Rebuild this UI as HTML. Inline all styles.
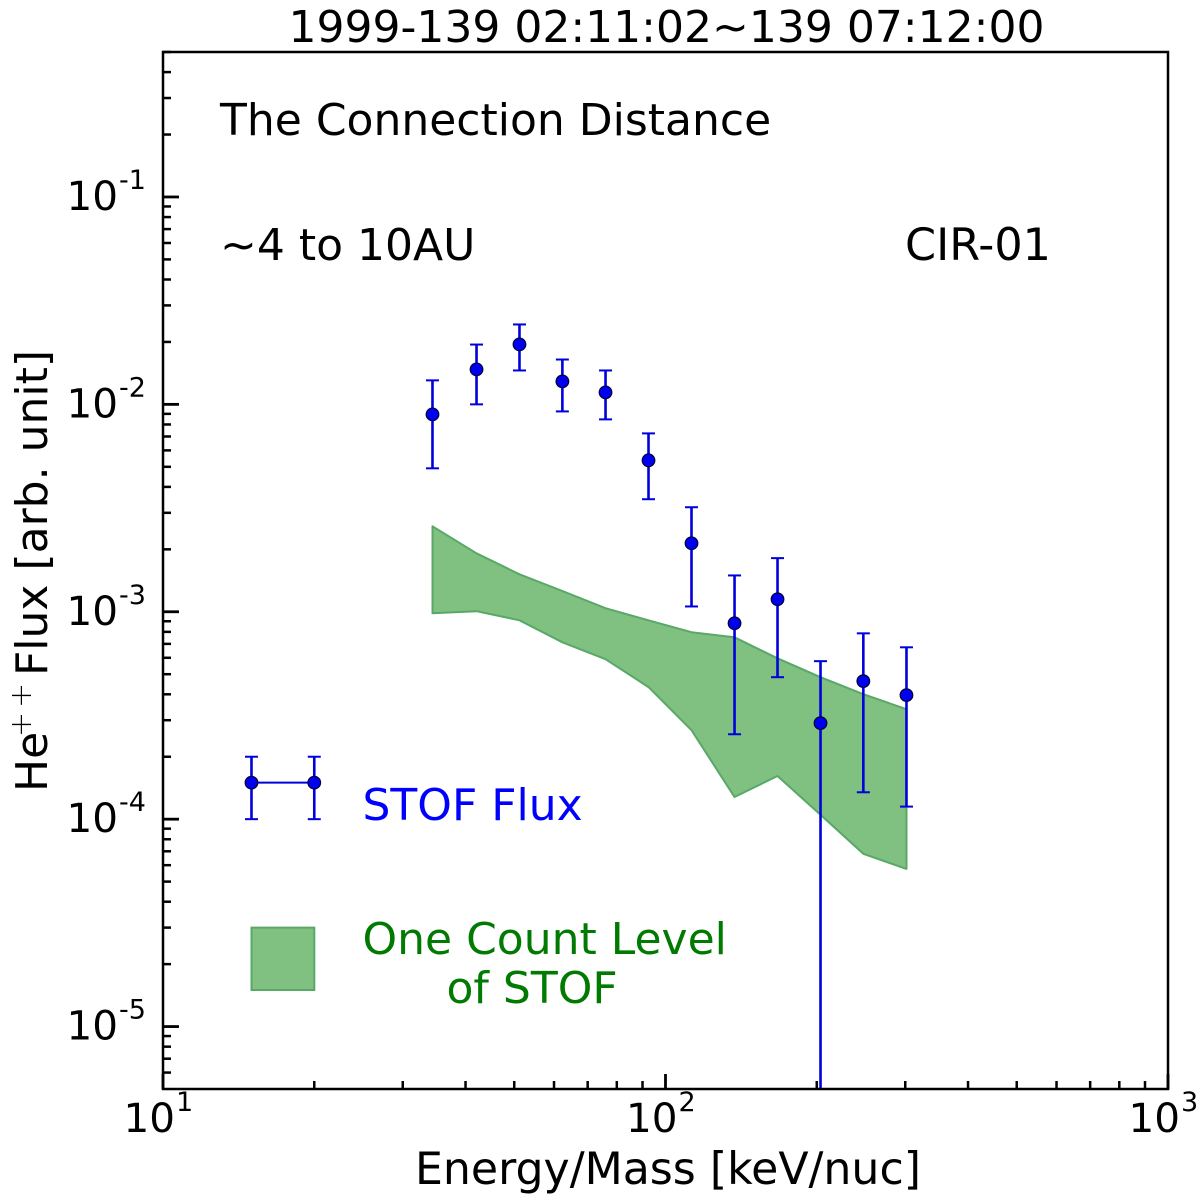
<!DOCTYPE html>
<html>
<head>
<meta charset="utf-8">
<title>STOF Flux</title>
<style>
html,body{margin:0;padding:0;background:#fff;width:1200px;height:1200px;overflow:hidden}
svg{display:block}
text{font-family:"DejaVu Sans","Liberation Sans",sans-serif;fill:#000}
</style>
</head>
<body>
<svg id="chart" xmlns="http://www.w3.org/2000/svg" width="1200" height="1200" viewBox="0 0 1200 1200">
  <rect x="0" y="0" width="1200" height="1200" fill="#fff"/>
  <defs><clipPath id="plot-clip"><rect x="163" y="52" width="1005" height="1037"/></clipPath></defs>
  <g clip-path="url(#plot-clip)">
    <g id="band-layer" transform="translate(0.5 0.8)"></g>
    <g id="err-layer" transform="translate(0.5 0.8)"></g>
  </g>
  <g id="legend-layer"></g>
  <g id="axis-layer"></g>
  <text x="666.5" y="42" font-size="44" text-anchor="middle">1999-139 02:11:02~139 07:12:00</text>
  <text x="220" y="135" font-size="44">The Connection Distance</text>
  <text x="220" y="260" font-size="44">~4 to 10AU</text>
  <text x="905" y="260" font-size="44.5">CIR-01</text>
  <text x="362.5" y="820" font-size="44" style="fill:#0000ff">STOF Flux</text>
  <text x="362.5" y="954" font-size="44" style="fill:#007a00">One Count Level</text>
  <text x="446.5" y="1003" font-size="44" style="fill:#007a00">of STOF</text>
  <text x="668" y="1184" font-size="44.2" text-anchor="middle">Energy/Mass [keV/nuc]</text>
  <text transform="translate(47 792) rotate(-90)" font-size="44">He</text>
  <text transform="translate(31 737) rotate(-90)" font-size="30" style="font-weight:200">+</text>
  <text transform="translate(31 708) rotate(-90)" font-size="30" style="font-weight:200">+</text>
  <text transform="translate(47 676) rotate(-90)" font-size="44">Flux [arb. unit]</text>
</svg>
<script>
var energy = [34.3, 41.97, 51.1, 62.2, 75.8, 92.3, 112.4, 136.9, 166.7, 203, 247, 301];
var flux = [9.03e-3, 1.488e-2, 1.963e-2, 1.302e-2, 1.153e-2, 5.42e-3, 2.158e-3, 8.88e-4, 1.159e-3, 2.93e-4, 4.67e-4, 4.0e-4];
var fluxHigh = [1.317e-2, 1.96e-2, 2.45e-2, 1.66e-2, 1.47e-2, 7.31e-3, 3.22e-3, 1.51e-3, 1.83e-3, 5.83e-4, 7.94e-4, 6.8e-4];
var fluxLow = [4.96e-3, 1.009e-2, 1.47e-2, 9.33e-3, 8.54e-3, 3.52e-3, 1.07e-3, 2.59e-4, 4.88e-4, 1e-6, 1.36e-4, 1.16e-4];
var bandUpper = [2.606e-3, 1.93e-3, 1.53e-3, 1.27e-3, 1.05e-3, 9.18e-4, 8.04e-4, 7.6e-4, 6.02e-4, 4.88e-4, 4.04e-4, 3.42e-4];
var bandLower = [9.92e-4, 1.015e-3, 9.18e-4, 7.19e-4, 5.96e-4, 4.37e-4, 2.71e-4, 1.29e-4, 1.63e-4, 1.06e-4, 6.87e-5, 5.81e-5];
var legendEnergy = [15, 20];
var legendFlux = [1.5e-4, 1.5e-4];
var legendHigh = [2e-4, 2e-4];
var legendLow = [1e-4, 1e-4];
var legendBandEnergy = [15, 20];
var legendBandFlux = [1.5e-5, 3e-5];
var xTickExponents = [1, 2, 3];
var yTickExponents = [-5, -4, -3, -2, -1];
var minorMultipliers = [2, 3, 4, 5, 6, 7, 8, 9];

var X_MIN = 10, X_MAX = 1000, Y_MIN = 5e-6, Y_MAX = 0.5;
var LEFT = 163, RIGHT = 1168, TOP = 52, BOTTOM = 1089;
var NS = 'http://www.w3.org/2000/svg';
var BLUE = '#0000dc';

function xScale(v) {
  return LEFT + (RIGHT - LEFT) * (Math.log10(v) - Math.log10(X_MIN)) / (Math.log10(X_MAX) - Math.log10(X_MIN));
}
function yScale(v) {
  return BOTTOM - (BOTTOM - TOP) * (Math.log10(v) - Math.log10(Y_MIN)) / (Math.log10(Y_MAX) - Math.log10(Y_MIN));
}
function make(parent, tag, attrs, txt) {
  var el = document.createElementNS(NS, tag);
  for (var k in attrs) { el.setAttribute(k, attrs[k]); }
  if (txt !== undefined) { el.textContent = txt; }
  parent.appendChild(el);
  return el;
}
function bandPath(xs, up, lo) {
  var pts = [];
  for (var i = 0; i < xs.length; i++) { pts.push(xScale(xs[i]).toFixed(1) + ',' + yScale(up[i]).toFixed(1)); }
  for (var j = xs.length - 1; j >= 0; j--) { pts.push(xScale(xs[j]).toFixed(1) + ',' + yScale(lo[j]).toFixed(1)); }
  return pts.join(' ');
}
function drawErrors(layer, xs, ys, hi, lo, prefix) {
  for (var i = 0; i < xs.length; i++) {
    var px = xScale(xs[i]);
    var stem = make(layer, 'line', {x1: px, x2: px, y1: yScale(hi[i]), y2: yScale(lo[i]), stroke: BLUE, 'stroke-width': 2.6});
    
    
    var capTop = make(layer, 'line', {x1: px - 6.5, x2: px + 6.5, y1: yScale(hi[i]), y2: yScale(hi[i]), stroke: BLUE, 'stroke-width': 2});
    
    
    var capLow = make(layer, 'line', {x1: px - 6.5, x2: px + 6.5, y1: yScale(lo[i]), y2: yScale(lo[i]), stroke: BLUE, 'stroke-width': 2});
    
    
  }
}
function drawPoints(layer, xs, ys, prefix) {
  for (var i = 0; i < xs.length; i++) {
    var dot = make(layer, 'circle', {cx: xScale(xs[i]), cy: yScale(ys[i]), r: 6.3, fill: '#0000f0', stroke: '#000033', 'stroke-width': 1.2});
    
    
  }
}

var bandLayer = document.getElementById('band-layer');
var errLayer = document.getElementById('err-layer');
var legendLayer = document.getElementById('legend-layer');
var axisLayer = document.getElementById('axis-layer');

var band = make(bandLayer, 'polygon', {points: bandPath(energy, bandUpper, bandLower), fill: '#80c080', stroke: '#58a868', 'stroke-width': 2, 'stroke-linejoin': 'round'});



drawErrors(errLayer, energy, flux, fluxHigh, fluxLow, 'stof-flux');
drawPoints(errLayer, energy, flux, 'stof-flux');

var legendLine = make(legendLayer, 'line', {x1: xScale(legendEnergy[0]), x2: xScale(legendEnergy[1]), y1: yScale(legendFlux[0]), y2: yScale(legendFlux[1]), stroke: BLUE, 'stroke-width': 2});


drawErrors(legendLayer, legendEnergy, legendFlux, legendHigh, legendLow, 'legend-stof');
drawPoints(legendLayer, legendEnergy, legendFlux, 'legend-stof');
var legendBand = make(legendLayer, 'polygon', {points: bandPath(legendBandEnergy, [legendBandFlux[1], legendBandFlux[1]], [legendBandFlux[0], legendBandFlux[0]]), fill: '#80c080', stroke: '#58a868', 'stroke-width': 2});



var frame = make(axisLayer, 'rect', {x: LEFT, y: TOP, width: RIGHT - LEFT, height: BOTTOM - TOP, fill: 'none', stroke: '#000', 'stroke-width': 2.5});



function tick(x1, y1, x2, y2, w, name) {
  var t = make(axisLayer, 'line', {x1: x1, y1: y1, x2: x2, y2: y2, stroke: '#000', 'stroke-width': w});
  
  
}
function tickLabel(xRight, baseline, exp, name) {
  var base = make(axisLayer, 'text', {x: xRight, y: baseline, 'font-size': 40.5, 'text-anchor': 'end'}, '10');
  
  
  var sup = make(axisLayer, 'text', {x: xRight + 1, y: baseline - 21, 'font-size': 27}, String(exp));
  
  
}

for (var xe = 1; xe <= 3; xe++) {
  for (var m = 0; xe < 3 && m < minorMultipliers.length; m++) {
    var mx = xScale(minorMultipliers[m] * Math.pow(10, xe));
    tick(mx, BOTTOM, mx, BOTTOM - 8, 2.5, 'x-minor-tick');
  }
}
xTickExponents.forEach(function (e) {
  var px = xScale(Math.pow(10, e));
  tick(px, BOTTOM, px, BOTTOM - 15, 2.8, 'x-major-tick');
  tickLabel(px + 12, 1132, e, 'x-tick-label');
});
for (var ye = -6; ye <= -1; ye++) {
  for (var n = 0; n < minorMultipliers.length; n++) {
    var val = minorMultipliers[n] * Math.pow(10, ye);
    if (val < Y_MIN || val > Y_MAX) { continue; }
    var my = yScale(val);
    tick(LEFT, my, LEFT + 8, my, 2.5, 'y-minor-tick');
  }
}
yTickExponents.forEach(function (e) {
  var py = yScale(Math.pow(10, e));
  tick(LEFT, py, LEFT + 16, py, 2.8, 'y-major-tick');
  tickLabel(118, py + 13, e, 'y-tick-label');
});
</script>
</body>
</html>
